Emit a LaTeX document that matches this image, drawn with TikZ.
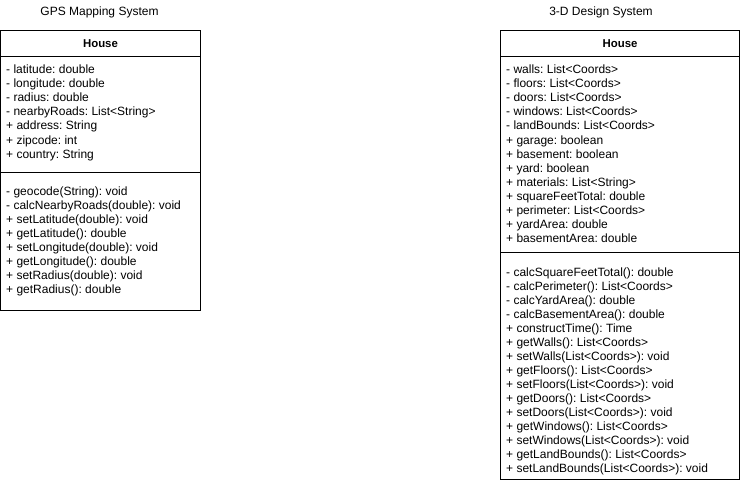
\documentclass[tikz,border=0pt]{standalone}
\usepackage{fontspec}
\setmainfont{Liberation Sans}
\frenchspacing
\begin{document}
\begin{tikzpicture}[x=1pt,y=-1pt,
  compartment/.style={draw=black, line width=1pt, fill=white, rectangle,
    anchor=north west, inner sep=0pt, outer sep=0pt},
  title/.style={font=\fontsize{12}{14}\selectfont, anchor=base, inner sep=0pt},
  header/.style={font=\fontsize{11.4}{14}\selectfont\bfseries, anchor=base, inner sep=0pt},
  member/.style={font=\fontsize{12}{14}\selectfont, anchor=base west, inner sep=0pt},
]
\useasboundingbox (0,0) rectangle (741,484);

% ---------- GPS Mapping System ----------
\node[title] (gpsTitle) at (99.5,16) {GPS Mapping System};
\node[compartment, minimum width=200pt, minimum height=26pt] (gpsHead) at (0.5,30.5) {};
\node[compartment, minimum width=200pt, minimum height=116pt] (gpsAttrBox) at (0.5,56.5) {};
\node[compartment, minimum width=200pt, minimum height=138pt] (gpsOpBox) at (0.5,172.5) {};
\node[header] (gpsName) at (100.5,48) {House};

\foreach \txt [count=\i] in {
  {- latitude: double},
  {- longitude: double},
  {- radius: double},
  {- nearbyRoads: List<String>},
  {+ address: String},
  {+ zipcode: int},
  {+ country: String}}
  \node[member] (gpsAttr\i) at (6,{74+14*(\i-1)}) {\txt};

\foreach \txt [count=\i] in {
  {- geocode(String): void},
  {- calcNearbyRoads(double): void},
  {+ setLatitude(double): void},
  {+ getLatitude(): double},
  {+ setLongitude(double): void},
  {+ getLongitude(): double},
  {+ setRadius(double): void},
  {+ getRadius(): double}}
  \node[member] (gpsOp\i) at (6,{195+14*(\i-1)}) {\txt};

% ---------- 3-D Design System ----------
\node[title] (cadTitle) at (601,16) {3-D Design System};
\node[compartment, minimum width=239pt, minimum height=26pt] (cadHead) at (500.5,30.5) {};
\node[compartment, minimum width=239pt, minimum height=196pt] (cadAttrBox) at (500.5,56.5) {};
\node[compartment, minimum width=239pt, minimum height=227pt] (cadOpBox) at (500.5,252.5) {};
\node[header] (cadName) at (620,48) {House};

\foreach \txt [count=\i] in {
  {- walls: List<Coords>},
  {- floors: List<Coords>},
  {- doors: List<Coords>},
  {- windows: List<Coords>},
  {- landBounds: List<Coords>},
  {+ garage: boolean},
  {+ basement: boolean},
  {+ yard: boolean},
  {+ materials: List<String>},
  {+ squareFeetTotal: double},
  {+ perimeter: List<Coords>},
  {+ yardArea: double},
  {+ basementArea: double}}
  \node[member] (cadAttr\i) at (506,{74+14*(\i-1)}) {\txt};

\foreach \txt [count=\i] in {
  {- calcSquareFeetTotal(): double},
  {- calcPerimeter(): List<Coords>},
  {- calcYardArea(): double},
  {- calcBasementArea(): double},
  {+ constructTime(): Time},
  {+ getWalls(): List<Coords>},
  {+ setWalls(List<Coords>): void},
  {+ getFloors(): List<Coords>},
  {+ setFloors(List<Coords>): void},
  {+ getDoors(): List<Coords>},
  {+ setDoors(List<Coords>): void},
  {+ getWindows(): List<Coords>},
  {+ setWindows(List<Coords>): void},
  {+ getLandBounds(): List<Coords>},
  {+ setLandBounds(List<Coords>): void}}
  \node[member] (cadOp\i) at (506,{276+14*(\i-1)}) {\txt};
\end{tikzpicture}
\end{document}
